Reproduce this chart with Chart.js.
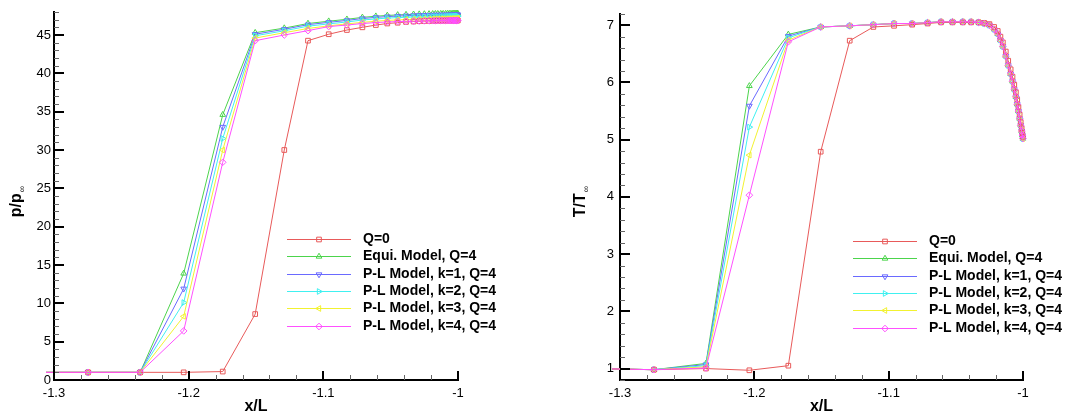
<!DOCTYPE html>
<html>
<head>
<meta charset="utf-8">
<script src="https://cdn.jsdelivr.net/npm/chart.js@4.4.1/dist/chart.umd.min.js"></script>
<style>
  html, body { margin: 0; padding: 0; background: #fff; }
  #wrap { display: flex; width: 1068px; height: 415px; }
  canvas { display: block; }
</style>
</head>
<body>
<div id="wrap">
  <canvas id="pChart" width="534" height="415"></canvas>
  <canvas id="tChart" width="534" height="415"></canvas>
</div>
<script>
// grid stations along the wall (x/L), same for every case
const xGrid = [-1.32, -1.2747, -1.236, -1.2037, -1.1747, -1.1506, -1.129, -1.1114, -1.096, -1.0825,
  -1.071, -1.061, -1.0525, -1.0448, -1.0386, -1.033, -1.0288, -1.025, -1.0215, -1.0188,
  -1.0168, -1.015, -1.0128, -1.011, -1.0092, -1.0078, -1.0065, -1.0053, -1.0043, -1.0034,
  -1.0025, -1.0017, -1.001, -1.0005, -1.0001];

const seriesLabels = ['Q=0', 'Equi. Model, Q=4', 'P-L Model, k=1, Q=4', 'P-L Model, k=2, Q=4',
  'P-L Model, k=3, Q=4', 'P-L Model, k=4, Q=4'];

// pressure ratio p/p_inf
const pQ0 = [1, 1, 1, 1, 1.1, 8.6, 30.0, 44.26, 45.1, 45.65, 46.0, 46.3, 46.5, 46.6, 46.7,
  46.75, 46.8, 46.82, 46.84, 46.85, 46.86, 46.87, 46.87, 46.88, 46.88, 46.88, 46.89, 46.89, 46.89, 46.9,
  46.9, 46.9, 46.9, 46.9, 46.9];
const pEqui = [1, 1, 1, 13.9, 34.6, 45.3, 45.9, 46.5, 46.8, 47.05, 47.3, 47.45, 47.55, 47.62, 47.66,
  47.7, 47.72, 47.74, 47.75, 47.76, 47.77, 47.77, 47.78, 47.78, 47.78, 47.79, 47.79, 47.79, 47.79, 47.8,
  47.8, 47.8, 47.8, 47.8, 47.8];
const pK1 = [1, 1, 1, 11.9, 33.0, 45.1, 45.75, 46.35, 46.65, 46.9, 47.15, 47.3, 47.4, 47.47, 47.51,
  47.55, 47.57, 47.59, 47.6, 47.61, 47.62, 47.62, 47.63, 47.63, 47.63, 47.64, 47.64, 47.64, 47.64, 47.65,
  47.65, 47.65, 47.65, 47.65, 47.65];
const pK2 = [1, 1, 1, 10.1, 31.5, 44.9, 45.55, 46.15, 46.45, 46.7, 46.95, 47.1, 47.2, 47.27, 47.31,
  47.35, 47.37, 47.39, 47.4, 47.41, 47.42, 47.42, 47.43, 47.43, 47.43, 47.44, 47.44, 47.44, 47.44, 47.45,
  47.45, 47.45, 47.45, 47.45, 47.45];
const pK3 = [1, 1, 1, 8.3, 30.0, 44.6, 45.3, 45.85, 46.2, 46.45, 46.65, 46.8, 46.9, 46.97, 47.01,
  47.05, 47.07, 47.09, 47.1, 47.11, 47.12, 47.12, 47.13, 47.13, 47.13, 47.14, 47.14, 47.14, 47.14, 47.15,
  47.15, 47.15, 47.15, 47.15, 47.15];
const pK4 = [1, 1, 1, 6.4, 28.4, 44.26, 45.0, 45.57, 46.1, 46.3, 46.5, 46.62, 46.7, 46.75, 46.78,
  46.8, 46.82, 46.84, 46.85, 46.86, 46.87, 46.87, 46.88, 46.88, 46.88, 46.89, 46.89, 46.89, 46.89, 46.9,
  46.9, 46.9, 46.9, 46.9, 46.9];

// temperature ratio T/T_inf
const tQ0 = [1.0, 0.98, 1.0, 0.97, 1.05, 4.79, 6.73, 6.97, 6.99, 7.01, 7.03, 7.05, 7.05, 7.05, 7.05,
  7.05, 7.04, 7.02, 6.97, 6.9, 6.8, 6.7, 6.54, 6.38, 6.23, 6.1, 5.96, 5.83, 5.7, 5.57,
  5.44, 5.31, 5.2, 5.12, 5.05];
const tEqui = [1.0, 0.98, 1.09, 5.94, 6.84, 6.97, 6.99, 7.01, 7.03, 7.03, 7.045, 7.06, 7.06, 7.06, 7.06,
  7.05, 7.03, 7.0, 6.93, 6.85, 6.74, 6.63, 6.46, 6.30, 6.15, 6.02, 5.88, 5.75, 5.62, 5.50,
  5.37, 5.25, 5.15, 5.08, 5.02];
const tK1 = [1.0, 0.98, 1.07, 5.59, 6.81, 6.97, 6.99, 7.01, 7.03, 7.03, 7.045, 7.06, 7.06, 7.06, 7.06,
  7.05, 7.03, 7.0, 6.93, 6.85, 6.74, 6.63, 6.46, 6.30, 6.15, 6.02, 5.88, 5.75, 5.62, 5.50,
  5.37, 5.25, 5.15, 5.08, 5.02];
const tK2 = [1.0, 0.98, 1.05, 5.22, 6.78, 6.97, 6.99, 7.01, 7.03, 7.03, 7.045, 7.06, 7.06, 7.06, 7.06,
  7.05, 7.03, 7.0, 6.93, 6.85, 6.74, 6.63, 6.46, 6.30, 6.15, 6.02, 5.88, 5.75, 5.62, 5.50,
  5.37, 5.25, 5.15, 5.08, 5.02];
const tK3 = [1.0, 0.98, 1.03, 4.73, 6.74, 6.97, 6.99, 7.01, 7.03, 7.03, 7.045, 7.06, 7.06, 7.06, 7.06,
  7.05, 7.03, 7.0, 6.93, 6.85, 6.74, 6.63, 6.46, 6.30, 6.15, 6.02, 5.88, 5.75, 5.62, 5.50,
  5.37, 5.25, 5.15, 5.08, 5.02];
const tK4 = [1.0, 0.98, 1.01, 4.03, 6.71, 6.97, 6.99, 7.01, 7.03, 7.03, 7.045, 7.06, 7.06, 7.06, 7.06,
  7.05, 7.03, 7.0, 6.93, 6.85, 6.74, 6.63, 6.46, 6.30, 6.15, 6.02, 5.88, 5.75, 5.62, 5.50,
  5.37, 5.25, 5.15, 5.08, 5.02];

const xTicks = [-1.3, -1.2, -1.1, -1];
const xTickLabels = ['-1.3', '-1.2', '-1.1', '-1'];
const pTicks = [0, 5, 10, 15, 20, 25, 30, 35, 40, 45];
const pTickLabels = ['0', '5', '10', '15', '20', '25', '30', '35', '40', '45'];
const tTicks = [1, 2, 3, 4, 5, 6, 7];
const tTickLabels = ['1', '2', '3', '4', '5', '6', '7'];

const FONT = '"Liberation Sans", Arial, Helvetica, sans-serif';
const lineColors = ['#e85a5a', '#4cd44c', '#6a6aff', '#40f0f0', '#f2f230', '#ff50ff'];
const markStyles = ['rect', 'triangle', 'triangle', 'triangle', 'triangle', 'rectRot'];
const markTurns = [0, 0, 180, 90, 270, 0];
const drawOrder = [1, 5, 4, 3, 2, 0];   // magenta ends up on top
const MARK_R = 3.3;

function makeDatasets(seriesList) {
  return seriesList.map((ys, i) => ({
    label: seriesLabels[i],
    data: xGrid.map((x, j) => ({ x: x, y: ys[j] })),
    borderColor: lineColors[i],
    backgroundColor: 'rgba(255,255,255,0)',
    borderWidth: 1,
    tension: 0,
    pointStyle: markStyles[i],
    pointRotation: markTurns[i],
    pointRadius: MARK_R,
    pointBorderWidth: 1,
    pointBorderColor: lineColors[i],
    pointBackgroundColor: 'rgba(255,255,255,0)',
    clip: 8,
    order: drawOrder[i]
  }));
}

// small hand-drawn marker, used if Chart.helpers is missing
function drawMark(ctx, style, rot, r, x, y) {
  if (Chart.helpers && Chart.helpers.drawPoint) {
    Chart.helpers.drawPoint(ctx, { pointStyle: style, rotation: rot, radius: r, borderWidth: 1 }, x, y);
    return;
  }
  ctx.save();
  ctx.translate(x, y);
  ctx.rotate(rot * Math.PI / 180);
  ctx.beginPath();
  if (style === 'rect') ctx.rect(-r * 0.707, -r * 0.707, r * 1.414, r * 1.414);
  else if (style === 'rectRot') { ctx.moveTo(0, -r); ctx.lineTo(r, 0); ctx.lineTo(0, r); ctx.lineTo(-r, 0); ctx.closePath(); }
  else { ctx.moveTo(0, -r); ctx.lineTo(r * 0.87, r * 0.5); ctx.lineTo(-r * 0.87, r * 0.5); ctx.closePath(); }
  ctx.stroke();
  ctx.restore();
}

// inward ticks, axis titles and the in-plot legend
const plotDecor = {
  id: 'plotDecor',
  afterDraw(chart, args, o) {
    const ctx = chart.ctx, a = chart.chartArea;
    const xs = chart.scales.x, ys = chart.scales.y;
    ctx.save();

    // minor ticks
    ctx.strokeStyle = '#666';
    ctx.lineWidth = 1;
    ctx.beginPath();
    for (let k = 0; ; k++) {
      const v = xs.min + k * o.xMinor;
      if (v > xs.max + 1e-9) break;
      const px = Math.round(xs.getPixelForValue(v)) + 0.5;
      ctx.moveTo(px, a.bottom); ctx.lineTo(px, a.bottom - 5);
    }
    for (let k = 0; ; k++) {
      const v = o.yMinorStart + k * o.yMinor;
      if (v > ys.max + 1e-9) break;
      const py = Math.round(ys.getPixelForValue(v)) + 0.5;
      ctx.moveTo(a.left, py); ctx.lineTo(a.left + 5, py);
    }
    ctx.stroke();

    // major ticks
    ctx.strokeStyle = '#000';
    ctx.lineWidth = 2;
    ctx.beginPath();
    xs.ticks.forEach(t => {
      const px = Math.round(xs.getPixelForValue(t.value));
      ctx.moveTo(px, a.bottom); ctx.lineTo(px, a.bottom - 9);
    });
    ys.ticks.forEach(t => {
      const py = Math.round(ys.getPixelForValue(t.value));
      ctx.moveTo(a.left, py); ctx.lineTo(a.left + 10, py);
    });
    ctx.stroke();

    // x title
    ctx.fillStyle = '#000';
    ctx.font = 'bold 16px ' + FONT;
    ctx.textAlign = 'center';
    ctx.textBaseline = 'middle';
    ctx.fillText(o.xTitle, (a.left + a.right) / 2, 407);

    // y title with small subscript
    ctx.save();
    ctx.translate(o.yTitleX, o.yTitleY);
    ctx.rotate(-Math.PI / 2);
    ctx.font = 'bold 16px ' + FONT;
    const wMain = ctx.measureText(o.yTitle).width;
    ctx.font = '9px ' + FONT;
    const wSub = ctx.measureText(o.yTitleSub).width;
    const x0 = -(wMain + wSub) / 2;
    ctx.textAlign = 'left';
    ctx.textBaseline = 'alphabetic';
    ctx.font = 'bold 16px ' + FONT;
    ctx.fillText(o.yTitle, x0, 0);
    ctx.font = '9px ' + FONT;
    ctx.fillText(o.yTitleSub, x0 + wMain + 1, 4);
    ctx.restore();

    // legend
    ctx.font = 'bold 14px ' + FONT;
    ctx.textAlign = 'left';
    ctx.textBaseline = 'middle';
    chart.data.datasets.forEach((ds, i) => {
      const y = Math.round(a.top + 227 + i * 17.35) + 0.5;
      const x1 = a.left + 233, x2 = a.left + 297;
      ctx.strokeStyle = ds.borderColor;
      ctx.lineWidth = 1;
      ctx.beginPath(); ctx.moveTo(x1, y); ctx.lineTo(x2, y); ctx.stroke();
      ctx.fillStyle = 'rgba(255,255,255,0)';
      drawMark(ctx, ds.pointStyle, ds.pointRotation, MARK_R, (x1 + x2) / 2, y);
      ctx.fillStyle = '#000';
      ctx.fillText(ds.label, a.left + 309, y);
    });
    ctx.restore();
  }
};

function buildChart(canvasId, seriesList, yMin, yMax, yTicks, yTickLabels, axisWidth, padRight, yLabelPad, decor) {
  return new Chart(document.getElementById(canvasId), {
    type: 'line',
    data: { datasets: makeDatasets(seriesList) },
    plugins: [plotDecor],
    options: {
      responsive: false,
      animation: false,
      events: [],
      layout: { padding: { top: 12, right: padRight, left: 0, bottom: 0 } },
      plugins: {
        legend: { display: false },
        tooltip: { enabled: false },
        plotDecor: decor
      },
      scales: {
        x: {
          type: 'linear',
          min: -1.3,
          max: -1.0,
          afterBuildTicks: s => { s.ticks = xTicks.map(v => ({ value: v })); },
          afterFit: s => { s.height = 35; },
          grid: { display: false, drawTicks: false },
          border: { display: true, color: '#000', width: 2 },
          ticks: {
            padding: 6,
            color: '#000',
            maxRotation: 0,
            autoSkip: false,
            font: { family: FONT, size: 13 },
            callback: (v, i) => xTickLabels[i]
          }
        },
        y: {
          type: 'linear',
          min: yMin,
          max: yMax,
          afterBuildTicks: s => { s.ticks = yTicks.map(v => ({ value: v })); },
          afterFit: s => { s.width = axisWidth; },
          grid: { display: false, drawTicks: false },
          border: { display: true, color: '#000', width: 2 },
          ticks: {
            padding: yLabelPad,
            color: '#000',
            autoSkip: false,
            font: { family: FONT, size: 13 },
            callback: (v, i) => yTickLabels[i]
          }
        }
      }
    }
  });
}

buildChart('pChart', [pQ0, pEqui, pK1, pK2, pK3, pK4], 0, 48, pTicks, pTickLabels, 54, 76, 3, {
  xMinor: 0.02, yMinor: 1, yMinorStart: 0,
  xTitle: 'x/L', yTitle: 'p/p', yTitleSub: '\u221E', yTitleX: 21, yTitleY: 202
});

buildChart('tChart', [tQ0, tEqui, tK1, tK2, tK3, tK4], 0.8, 7.2, tTicks, tTickLabels, 86, 45, 6, {
  xMinor: 0.02, yMinor: 0.2, yMinorStart: 0.8,
  xTitle: 'x/L', yTitle: 'T/T', yTitleSub: '\u221E', yTitleX: 51, yTitleY: 202
});
</script>
</body>
</html>
